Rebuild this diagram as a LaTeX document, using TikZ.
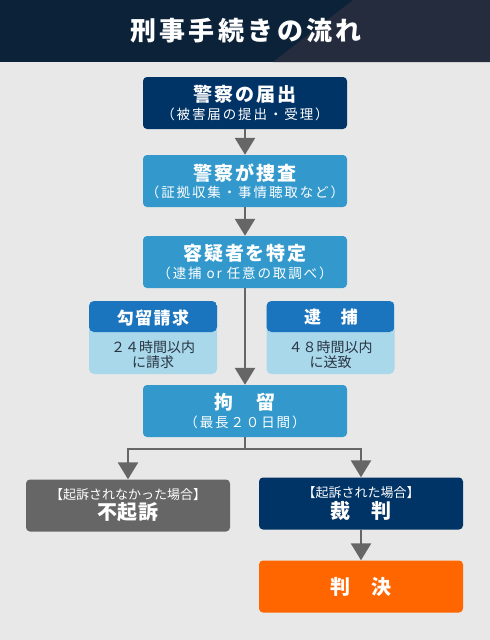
\documentclass[tikz,border=0pt]{standalone}
\usepackage{fontspec}
\setmainfont{Noto Sans CJK JP}
\usetikzlibrary{arrows.meta}
\definecolor{headnavy}{RGB}{11,34,57}
\definecolor{headslate}{RGB}{36,44,62}
\definecolor{paper}{RGB}{232,232,232}
\definecolor{police}{RGB}{0,51,102}
\definecolor{process}{RGB}{51,153,204}
\definecolor{custody}{RGB}{27,117,190}
\definecolor{custodylight}{RGB}{168,216,234}
\definecolor{dropped}{RGB}{102,102,102}
\definecolor{verdict}{RGB}{255,102,0}
\definecolor{flow}{RGB}{102,102,102}
\definecolor{note}{RGB}{40,52,66}
\tikzstyle{flowbox}=[rounded corners=4pt, text=white, align=center, minimum width=204pt, minimum height=52pt, inner sep=0pt]
\tikzstyle{sidebox}=[rounded corners=5pt, fill=custodylight, minimum width=128pt, minimum height=73pt, inner sep=0pt,
    path picture={\fill[custody] (path picture bounding box.north west) rectangle ([yshift=-31pt]path picture bounding box.north east);}]
\tikzstyle{flowline}=[draw=flow, line width=2.6pt, -{Triangle[width=20pt,length=17pt]}]
\tikzstyle{flowlink}=[draw=flow, line width=2.6pt]
\newcommand{\boxtitle}[1]{{\fontsize{19}{23}\selectfont\bfseries\addfontfeature{LetterSpace=10}#1}}
\newcommand{\boxnote}[1]{{\fontsize{13.5}{16}\selectfont\addfontfeature{LetterSpace=14}#1}}
\newcommand{\casenote}[1]{{\fontsize{13}{16}\selectfont #1}}
\newcommand{\casetitle}[1]{{\fontsize{20}{23}\selectfont\bfseries\addfontfeature{LetterSpace=4}#1}}

\begin{document}
\begin{tikzpicture}[x=1pt, y=-1pt]
            \useasboundingbox (0,0) rectangle (490,640);
            \fill[paper] (0,0) rectangle (490,640);
            % header band
            \fill[headnavy] (0,0) rectangle (490,62);
            \fill[headslate] (353,0) -- (490,0) -- (490,62) -- (273,62) -- cycle;
            \node[text=white, font=\fontsize{26}{30}\selectfont\bfseries\addfontfeature{LetterSpace=13}] (title) at (246,31) {刑事手続きの流れ};

            \node[flowbox, fill=police] (todokede) at (245,103)
                {\boxtitle{警察の届出}\\[3pt]\boxnote{（被害届の提出・受理）}};
            \node[flowbox, fill=process] (sousa) at (245,181)
                {\boxtitle{警察が捜査}\\[3pt]\boxnote{（証拠収集・事情聴取など）}};
            \node[flowbox, fill=process] (tokutei) at (245,262)
                {\boxtitle{容疑者を特定}\\[3pt]\boxnote{（逮捕 or 任意の取調べ）}};

            % side notes
            \node[sidebox] (seikyu) at (153,337.5) {};
            \node[text=white, font=\fontsize{17}{20}\selectfont\bfseries\addfontfeature{LetterSpace=8}] (seikyuHead) at (153,317.5) {勾留請求};
            \node[text=note, align=center, font=\fontsize{14}{15}\selectfont] (seikyuBody) at (153,355) {２４時間以内\\に請求};
            \node[sidebox] (taiho) at (330.5,337.5) {};
            \node[text=white, font=\fontsize{17}{20}\selectfont\bfseries\addfontfeature{LetterSpace=8}] (taihoHead) at (331,317.5) {逮　捕};
            \node[text=note, align=center, font=\fontsize{14}{15}\selectfont] (taihoBody) at (330.5,355) {４８時間以内\\に送致};

            \node[flowbox, fill=process] (kouryu) at (245,411)
                {\boxtitle{拘　留}\\[3pt]\boxnote{（最長２０日間）}};

            \node[flowbox, fill=dropped] (fukiso) at (128,505.5)
                {\casenote{【起訴されなかった場合】}\\[1pt]\casetitle{不起訴}};
            \node[flowbox, fill=police] (saiban) at (361,503.5)
                {\casenote{【起訴された場合】}\\[1pt]\casetitle{裁　判}};
            \node[flowbox, fill=verdict] (hanketsu) at (361,586.5)
                {\casetitle{判　決}};

            \draw[flowline] (todokede) -- (sousa);
            \draw[flowline] (sousa) -- (tokutei);
            \draw[flowline] (tokutei) -- (kouryu);
            \coordinate (split) at (245,449);
            \draw[flowlink] (kouryu) -- (split);
            \draw[flowline] (split) -| (fukiso);
            \draw[flowline] (split) -| (saiban);
            \draw[flowline] (saiban) -- (hanketsu);
        \end{tikzpicture}
\end{document}
